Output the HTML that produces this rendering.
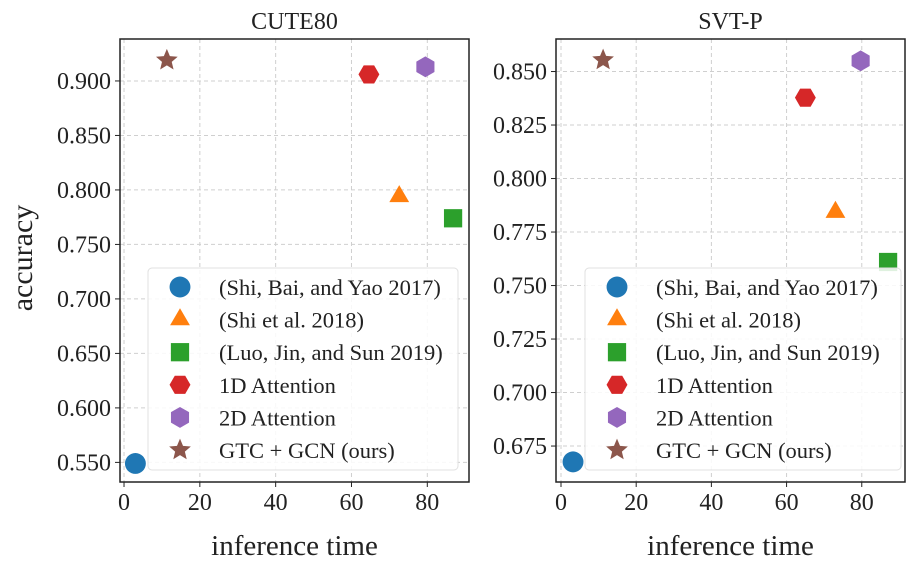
<!DOCTYPE html>
<html><head><meta charset="utf-8"><style>
body{margin:0;background:#fff;}
svg{display:block;font-family:"Liberation Serif","DejaVu Serif",serif;}
</style></head><body>
<svg id="chart" width="910" height="567" viewBox="0 0 910 567"></svg>
<script>
const methods = ["(Shi, Bai, and Yao 2017)","(Shi et al. 2018)","(Luo, Jin, and Sun 2019)","1D Attention","2D Attention","GTC + GCN (ours)"];
const cuteTime = [3, 72.6, 86.8, 64.6, 79.5, 11.3];
const cuteAcc = [0.549, 0.794, 0.774, 0.906, 0.913, 0.919];
const svtTime = [3.2, 73, 87, 65, 79.7, 11.2];
const svtAcc = [0.6676, 0.7843, 0.761, 0.8378, 0.855, 0.8554];
const xTicks = [0, 20, 40, 60, 80];
const cuteYTicks = [0.55, 0.6, 0.65, 0.7, 0.75, 0.8, 0.85, 0.9];
const svtYTicks = [0.675, 0.7, 0.725, 0.75, 0.775, 0.8, 0.825, 0.85];
const colors = ["#1f77b4","#ff7f0e","#2ca02c","#d62728","#9467bd","#8c564b"];
const shapes = ["circle","triangle","square","hexagon","hexagon2","star"];

const svg = document.getElementById('chart');
const NS = "http://www.w3.org/2000/svg";
function mk(tag, attrs, parent){const e=document.createElementNS(NS,tag);for(const k in attrs)e.setAttribute(k,attrs[k]);(parent||svg).appendChild(e);return e;}

function marker(shape, cx, cy, color, s, parent){
  let e;
  if(shape==="circle") e=mk('circle',{cx:cx,cy:cy,r:s*0.55,fill:color},parent);
  else if(shape==="square") e=mk('rect',{x:cx-s*0.48,y:cy-s*0.48,width:s*0.96,height:s*0.96,fill:color},parent);
  else if(shape==="triangle"){const r=s*0.6;e=mk('polygon',{points:`${cx},${cy-r} ${cx+r*0.87},${cy+r*0.5} ${cx-r*0.87},${cy+r*0.5}`,fill:color},parent);}
  else if(shape==="hexagon"||shape==="hexagon2"){const r=s*0.55;let p=[];for(let i=0;i<6;i++){const a=Math.PI/3*i+(shape==="hexagon"?0:Math.PI/6);p.push((cx+r*Math.cos(a))+","+(cy+r*Math.sin(a)));}e=mk('polygon',{points:p.join(' '),fill:color},parent);}
  else {const R=s*0.6,r=R*0.45;let p=[];for(let i=0;i<10;i++){const a=-Math.PI/2+Math.PI/5*i;const rr=i%2?r:R;p.push((cx+rr*Math.cos(a))+","+(cy+rr*Math.sin(a)));}e=mk('polygon',{points:p.join(' '),fill:color},parent);}
  return e;
}

function panel(cfg){
  const g=mk('g',{});
  
  
  const sx=v=>cfg.x0+(v-cfg.xmin)/(cfg.xmax-cfg.xmin)*(cfg.x1-cfg.x0);
  const sy=v=>cfg.y1-(v-cfg.ymin)/(cfg.ymax-cfg.ymin)*(cfg.y1-cfg.y0);
  xTicks.forEach(t=>{mk('line',{x1:sx(t),x2:sx(t),y1:cfg.y0,y2:cfg.y1,stroke:"#cfcfcf","stroke-dasharray":"4,3","stroke-width":1},g);
    const tl=mk('text',{x:sx(t),y:cfg.y1+28,"text-anchor":"middle","font-size":24,fill:"#222"},g);tl.textContent=t;
    
    
    mk('line',{x1:sx(t),x2:sx(t),y1:cfg.y1,y2:cfg.y1+5,stroke:"#222"},g);});
  cfg.yTicks.forEach(t=>{mk('line',{x1:cfg.x0,x2:cfg.x1,y1:sy(t),y2:sy(t),stroke:"#cfcfcf","stroke-dasharray":"4,3","stroke-width":1},g);
    const tl=mk('text',{x:cfg.x0-9,y:sy(t)+8,"text-anchor":"end","font-size":24,fill:"#222"},g);tl.textContent=t.toFixed(3);
    
    
    mk('line',{x1:cfg.x0-5,x2:cfg.x0,y1:sy(t),y2:sy(t),stroke:"#222"},g);});
  mk('rect',{x:cfg.x0,y:cfg.y0,width:cfg.x1-cfg.x0,height:cfg.y1-cfg.y0,fill:"none",stroke:"#222","stroke-width":1.5},g);
  const ti=mk('text',{x:(cfg.x0+cfg.x1)/2,y:29,"text-anchor":"middle","font-size":24,fill:"#222"},g);ti.textContent=cfg.title;
  
  
  const xl=mk('text',{x:(cfg.x0+cfg.x1)/2,y:555,"text-anchor":"middle","font-size":29,fill:"#222"},g);xl.textContent="inference time";
  
  
  cfg.xs.forEach((v,i)=>{const m=marker(shapes[i],sx(v),sy(cfg.ys[i]),colors[i],19,g);
    
    });
  const lg=mk('g',{},g);
  
  
  mk('rect',{x:cfg.lx,y:268,width:cfg.lw,height:202,rx:4,fill:"rgba(255,255,255,0.85)",stroke:"#e0e0e0"},lg);
  methods.forEach((m,i)=>{const yy=287+i*32.6;
    const mm=marker(shapes[i],cfg.lx+32,yy,colors[i],19,lg);
    
    
    const t=mk('text',{x:cfg.lx+71,y:yy+8,"font-size":22.5,fill:"#222"},lg);t.textContent=m;
    
    });
}
panel({name:"cute80",title:"CUTE80",x0:120,x1:469,y0:39,y1:482,xmin:-1.06,xmax:91.0,ymin:0.532,ymax:0.9385,yTicks:cuteYTicks,xs:cuteTime,ys:cuteAcc,lx:148,lw:310});
panel({name:"svtp",title:"SVT-P",x0:556,x1:905,y0:39,y1:482,xmin:-1.33,xmax:91.5,ymin:0.6582,ymax:0.8652,yTicks:svtYTicks,xs:svtTime,ys:svtAcc,lx:585,lw:316});
const yl=mk('text',{x:32,y:258,"text-anchor":"middle","font-size":30,fill:"#222",transform:"rotate(-90 32 258)"});yl.textContent="accuracy";


</script>
</body></html>
